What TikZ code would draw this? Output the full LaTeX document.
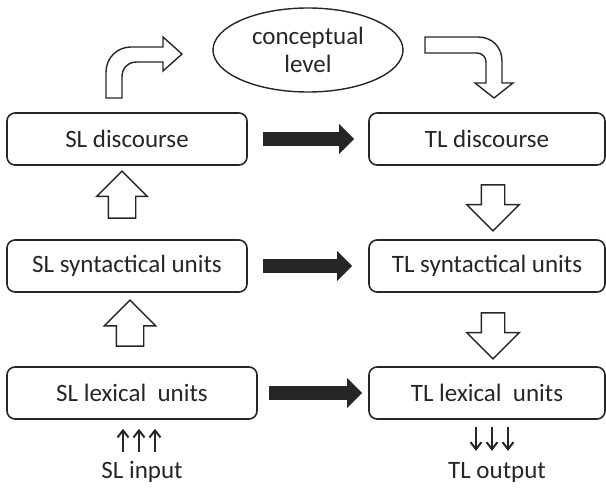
\documentclass[tikz,border=0pt]{standalone}
\usepackage{fontspec}
\setmainfont{Carlito}
\usetikzlibrary{arrows.meta,shapes.geometric,shapes.arrows}
\tikzset{
  levelbox/.style={draw=black!85, line width=1.6pt, rounded corners=8pt,
    minimum height=52pt, inner sep=0pt, text=black!85},
  hollowarrow/.style={single arrow, draw=black!85, line width=1.4pt,
    inner xsep=0pt, single arrow tip angle=90},
  solidarrow/.style={line width=14pt, -{Triangle[length=15pt,width=29pt]}},
  thinarrow/.style={line width=2pt, -{Straight Barb[length=7pt,width=11pt]}},
  bentarrow/.style={draw=black!85, line width=1.4pt, line join=miter},
}
\begin{document}
\begin{tikzpicture}[x=1pt, y=-1pt, font=\fontsize{25}{28}\selectfont, black!85]
  \useasboundingbox (0,0) rectangle (606,489);
  % levels
  \node[levelbox, minimum width=240pt] (sld) at (127,139) {SL discourse};
  \node[levelbox, minimum width=240pt] (sls) at (127,266) {SL syntactical units};
  \node[levelbox, minimum width=250pt] (sll) at (132,393) {SL lexical\ \ units};
  \node[levelbox, minimum width=236pt] (tld) at (487,139) {TL discourse};
  \node[levelbox, minimum width=236pt] (tls) at (487,266) {TL syntactical units};
  \node[levelbox, minimum width=236pt] (tll) at (487,393) {TL lexical\ \ units};
  \node[ellipse, draw=black!85, line width=1.4pt, minimum width=190pt,
    minimum height=84pt, inner sep=0pt, align=center] (concept) at (308,50)
    {conceptual\\level};
  \node[inner sep=0pt] (slin) at (142,472) {SL input};
  \node[inner sep=0pt] (tlout) at (497,472) {TL output};
  % transfer
  \draw[solidarrow] ([xshift=15pt]sld.east) -- ([xshift=-14pt]tld.west);
  \draw[solidarrow] ([xshift=15pt]sls.east) -- ([xshift=-16pt]tls.west);
  \draw[solidarrow] ([xshift=11pt]sll.east) -- ([xshift=-6pt]tll.west);
  % analysis and synthesis
  \node[hollowarrow, rotate=90, minimum height=47pt, inner ysep=13pt,
    single arrow head extend=11.5pt] (up1) at (122,201.5) {};
  \node[hollowarrow, rotate=90, minimum height=46pt, inner ysep=13pt,
    single arrow head extend=12pt] (up2) at (130,330) {};
  \node[hollowarrow, rotate=-90, minimum height=46pt, inner ysep=11pt,
    single arrow head extend=14.5pt] (down1) at (493,202) {};
  \node[hollowarrow, rotate=-90, minimum height=46pt, inner ysep=11pt,
    single arrow head extend=14.5pt] (down2) at (493,330) {};
  \draw[bentarrow] (106,98) -- (106,72) .. controls (106,58) and (117,47) .. (131,47)
    -- (163,47) -- (163,37) -- (182,54) -- (163,71) -- (163,62) -- (137,62)
    .. controls (128,62) and (122,68) .. (122,77) -- (122,98) -- cycle;
  \draw[bentarrow] (425,37) -- (478,37) .. controls (492,37) and (502,47) .. (502,61)
    -- (502,83) -- (513,83) -- (494,98) -- (475,83) -- (486,83) -- (486,62)
    .. controls (486,57) and (482,53) .. (477,53) -- (425,53) -- cycle;
  % input and output
  \foreach \dx in {-19,-3,13}
    \draw[thinarrow, shorten <=9pt, shorten >=9pt]
      ([xshift=\dx pt]slin.north) -- ([xshift=\dx pt]slin.north |- sll.south);
  \foreach \dx in {-21,-5,11}
    \draw[thinarrow, shorten <=7pt, shorten >=11pt]
      ([xshift=\dx pt]tlout.north |- tll.south) -- ([xshift=\dx pt]tlout.north);
\end{tikzpicture}
\end{document}
